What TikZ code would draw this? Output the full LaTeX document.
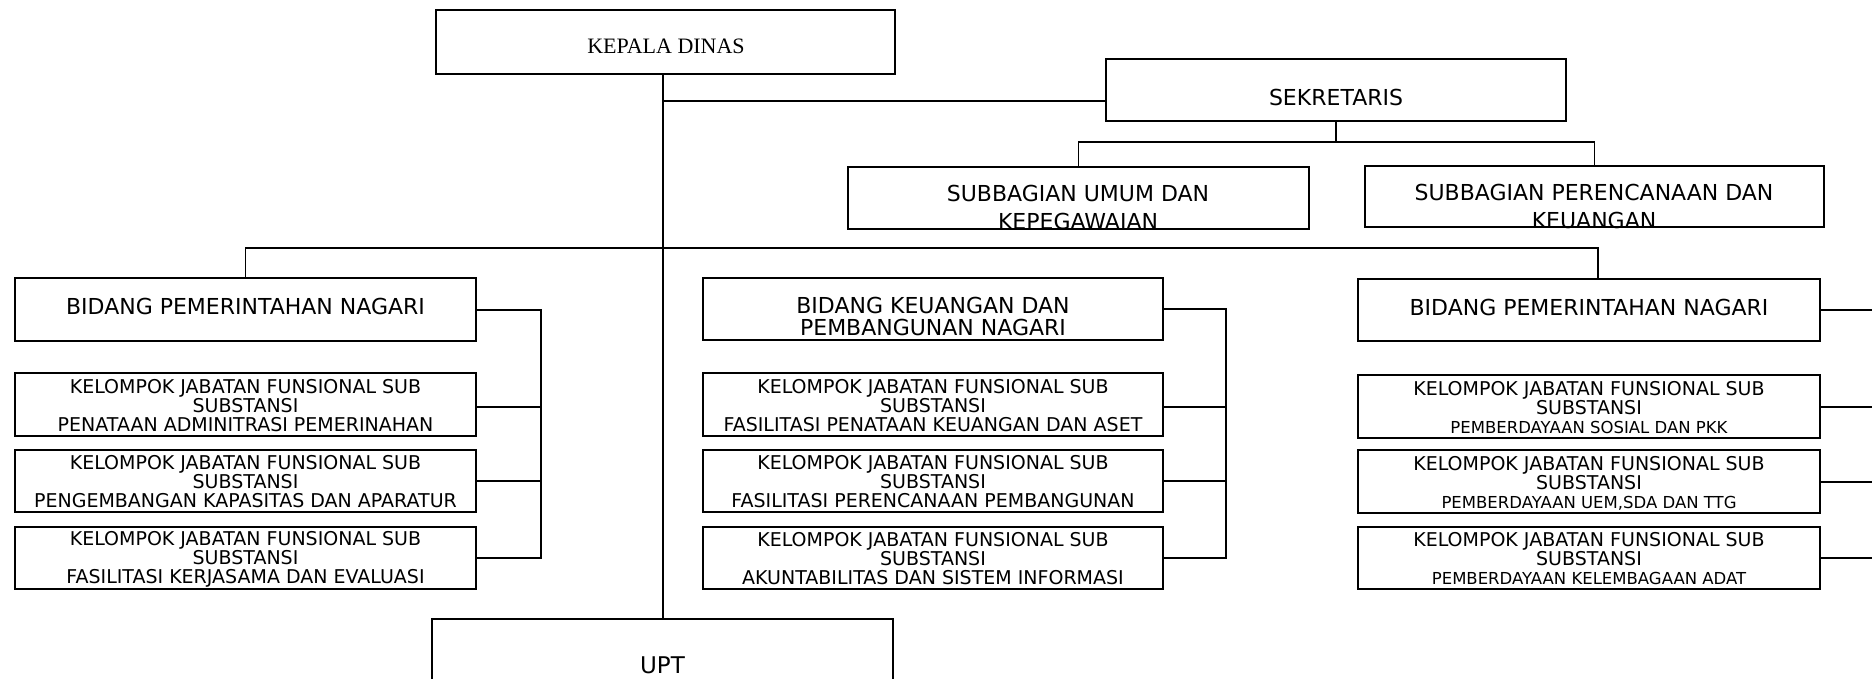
\documentclass[tikz,border=0pt]{standalone}
\usepackage{fontspec}
\usetikzlibrary{fit}
\newfontfamily\dv{DejaVu Sans}
\newfontfamily\lser{Liberation Serif}
\begin{document}
\begin{tikzpicture}[x=1pt,y=-1pt,
  box/.style={draw, line width=2.4pt, inner sep=0pt},
  head/.style={font=\dv\fontsize{22}{24}\selectfont, align=center, inner sep=0pt},
  kjf/.style={font=\dv\fontsize{19}{19}\selectfont, align=center, inner sep=0pt},
  ln/.style={line width=2pt},
  thin/.style={line width=1.1pt}]
\clip (0,0) rectangle (1872,678);
% boxes
\node[box, fit={(436,10)(895,74)}] (kd) {};
\node[box, fit={(1106,59)(1566,121)}] (sek) {};
\node[box, fit={(848,167)(1309,229)}] (sub1) {};
\node[box, fit={(1365,166)(1824,227)}] (sub2) {};
\node[box, fit={(15,278)(476,341)}] (b1) {};
\node[box, fit={(703,278)(1163,340)}] (b2) {};
\node[box, fit={(1358,279)(1820,341)}] (b3) {};
\node[box, fit={(15,373)(476,436)}] (k11) {};
\node[box, fit={(15,450)(476,512)}] (k12) {};
\node[box, fit={(15,527)(476,589)}] (k13) {};
\node[box, fit={(703,373)(1163,436)}] (k21) {};
\node[box, fit={(703,450)(1163,512)}] (k22) {};
\node[box, fit={(703,527)(1163,589)}] (k23) {};
\node[box, fit={(1358,375)(1820,438)}] (k31) {};
\node[box, fit={(1358,450)(1820,513)}] (k32) {};
\node[box, fit={(1358,527)(1820,589)}] (k33) {};
\node[box, fit={(432,619)(893,720)}] (upt) {};
% texts
\node[inner sep=0pt, font=\lser\fontsize{22}{24}\selectfont] (kdt) at (666,46) {KEPALA DINAS};
\node[head] (sekt) at (1336,97) {SEKRETARIS};
\node[head, font=\dv\fontsize{22}{28}\selectfont] (sub1t) at (1078,207) {SUBBAGIAN UMUM DAN\\KEPEGAWAIAN};
\node[head, font=\dv\fontsize{22}{28}\selectfont] (sub2t) at (1594,206) {SUBBAGIAN PERENCANAAN DAN\\KEUANGAN};
\node[head] (b1t) at (245.5,306) {BIDANG PEMERINTAHAN NAGARI};
\node[head, font=\dv\fontsize{22}{22}\selectfont] (b2t) at (933,316) {BIDANG KEUANGAN DAN\\PEMBANGUNAN NAGARI};
\node[head] (b3t) at (1589,307) {BIDANG PEMERINTAHAN NAGARI};
\node[kjf] (k11t) at (245.5,406) {KELOMPOK JABATAN FUNSIONAL SUB\\SUBSTANSI\\PENATAAN ADMINITRASI PEMERINAHAN};
\node[kjf] (k12t) at (245.5,482) {KELOMPOK JABATAN FUNSIONAL SUB\\SUBSTANSI\\PENGEMBANGAN KAPASITAS DAN APARATUR};
\node[kjf] (k13t) at (245.5,559) {KELOMPOK JABATAN FUNSIONAL SUB\\SUBSTANSI\\FASILITASI KERJASAMA DAN EVALUASI};
\node[kjf] (k21t) at (933,406) {KELOMPOK JABATAN FUNSIONAL SUB\\SUBSTANSI\\FASILITASI PENATAAN KEUANGAN DAN ASET};
\node[kjf] (k22t) at (933,482) {KELOMPOK JABATAN FUNSIONAL SUB\\SUBSTANSI\\FASILITASI PERENCANAAN PEMBANGUNAN};
\node[kjf] (k23t) at (933,559) {KELOMPOK JABATAN FUNSIONAL SUB\\SUBSTANSI\\AKUNTABILITAS DAN SISTEM INFORMASI};
\node[kjf] (k31t) at (1589,408) {KELOMPOK JABATAN FUNSIONAL SUB\\SUBSTANSI\\{\fontsize{16.5}{19}\selectfont PEMBERDAYAAN SOSIAL DAN PKK}};
\node[kjf] (k32t) at (1589,483) {KELOMPOK JABATAN FUNSIONAL SUB\\SUBSTANSI\\{\fontsize{16.5}{19}\selectfont PEMBERDAYAAN UEM,SDA DAN TTG}};
\node[kjf] (k33t) at (1589,559) {KELOMPOK JABATAN FUNSIONAL SUB\\SUBSTANSI\\{\fontsize{16.5}{19}\selectfont PEMBERDAYAAN KELEMBAGAAN ADAT}};
\node[inner sep=0pt, font=\dv\fontsize{23}{25}\selectfont] (uptt) at (662.5,665) {UPT};
% helper coordinates
\coordinate (trk) at (663,0);
\coordinate (kline) at (0,101);
\coordinate (sekbus) at (0,142);
\coordinate (bus) at (0,248);
\coordinate (lbr) at (541,0);
\coordinate (mbr) at (1226,0);
\coordinate (rbr) at (1872,0);
% connectors
\draw[ln] (trk |- kd.south) -- (trk |- upt.north);
\draw[ln] (trk |- kline) -- (sek.west |- kline);
\draw[thin] (sek.south) -- (sek.south |- sekbus);
\draw[thin] (sub1.north) -- (sub1.north |- sekbus) -- (sub2.north |- sekbus) -- (sub2.north);
\draw[thin] (b1.north) -- (b1.north |- bus) -- ([xshift=9pt]b3.north |- bus) -- ([xshift=9pt]b3.north);
\draw[ln] (b1.east) -- (b1.east -| lbr) -- (k13.east -| lbr) -- (k13.east);
\draw[ln] ([yshift=-2.5pt]k11.east) -- ([yshift=-2.5pt]k11.east -| lbr);
\draw[ln] (k12.east) -- (k12.east -| lbr);
\draw[ln] (b2.east) -- (b2.east -| mbr) -- (k23.east -| mbr) -- (k23.east);
\draw[ln] ([yshift=-2.5pt]k21.east) -- ([yshift=-2.5pt]k21.east -| mbr);
\draw[ln] (k22.east) -- (k22.east -| mbr);
\draw[ln] (b3.east) -- (b3.east -| rbr);
\draw[ln] (k31.east) -- (k31.east -| rbr);
\draw[ln] (k32.east) -- (k32.east -| rbr);
\draw[ln] (k33.east) -- (k33.east -| rbr);
\end{tikzpicture}
\end{document}
